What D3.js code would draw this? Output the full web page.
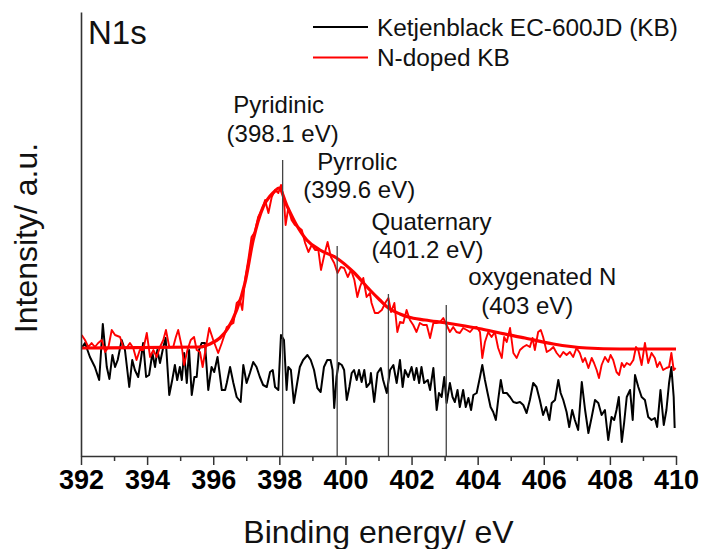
<!DOCTYPE html>
<html>
<head>
<meta charset="utf-8">
<script src="https://cdn.jsdelivr.net/npm/d3@7"></script>
<style>
  html, body { margin: 0; padding: 0; background: #fff; }
  svg { display: block; font-family: "Liberation Sans", Arial, sans-serif; }
</style>
</head>
<body>
<svg id="chart" width="702" height="549"></svg>
<script>
// ---- data (binding energy in eV, intensity in arbitrary units) ----
const kbEnergy = [
  392.02,392.12,392.27,392.42,392.55,392.66,392.78,392.86,392.95,393.03,
  393.11,393.23,393.33,393.46,393.55,393.63,393.73,393.81,393.88,393.97,
  394.06,394.16,394.24,394.31,394.39,394.49,394.56,394.67,394.76,394.84,
  394.91,394.99,395.05,395.12,395.20,395.27,395.35,395.43,395.50,395.57,
  395.65,395.75,395.85,395.95,396.03,396.13,396.26,396.36,
  396.41,396.51,396.61,396.71,396.83,396.91,397.01,397.11,397.21,397.31,
  397.41,397.51,397.62,397.72,397.80,397.87,397.97,398.05,398.14,398.22,
  398.27,398.35,398.44,398.52,398.62,398.72,398.85,398.95,399.05,399.15,
  399.25,399.35,399.45,399.55,399.61,399.66,399.73,399.80,399.89,399.96,
  400.04,400.12,400.19,400.26,400.34,400.41,400.49,400.57,400.64,400.74,
  400.77,400.87,400.97,401.07,401.14,401.25,401.35,401.45,401.55,401.65,
  401.73,401.80,401.90,402.00,402.08,402.15,402.23,402.30,402.38,402.49,
  402.56,402.66,402.76,402.83,402.91,402.99,403.06,403.16,403.24,403.31,
  403.39,403.46,403.56,403.64,403.72,403.80,403.87,403.97,404.07,404.14,
  404.22,404.30,404.39,404.47,404.55,404.62,404.70,404.77,404.88,404.98,
  405.08,405.18,405.28,405.38,
  405.48,405.58,405.68,405.78,405.88,405.98,406.07,406.17,406.24,406.34,
  406.44,406.51,406.59,406.69,406.77,406.86,406.94,407.04,407.15,407.25,
  407.35,407.45,407.55,407.65,407.75,407.85,407.95,408.05,408.13,408.20,
  408.27,408.36,408.43,408.51,408.61,408.69,408.76,408.86,408.96,409.06,
  409.16,409.26,409.36,409.43,409.53,409.63,409.71,409.79,409.86,409.93,
  409.96
];
const kbIntensity = [
  108,113,99,89,76,132,89,77,101,89,
  96,116,106,69,96,86,79,96,113,79,
  81,103,89,106,93,109,118,61,76,91,
  76,89,76,103,73,106,61,79,79,106,
  113,113,66,89,84,99,66,66,
  73,89,73,59,54,91,73,83,94,89,
  79,71,69,84,86,69,66,121,116,66,
  89,86,53,69,89,96,101,96,86,68,
  64,89,96,96,86,48,79,93,91,86,
  56,69,83,86,76,86,74,86,69,73,
  83,54,83,88,76,63,86,91,73,96,
  69,86,79,89,76,88,73,89,73,76,
  66,88,46,63,59,79,53,73,59,54,
  66,49,66,49,58,46,61,63,79,91,
  76,63,49,44,36,56,76,63,63,59,
  54,53,54,51,
  43,56,73,69,56,41,49,36,53,56,
  76,63,56,44,29,46,36,26,74,46,
  23,39,56,53,41,46,16,39,36,46,
  59,14,33,59,66,36,81,69,59,56,
  39,36,38,29,66,31,46,73,89,59,
  28
];
const ndEnergy = [
  392.02,392.12,392.22,392.32,392.42,392.52,392.63,392.73,392.83,392.93,
  393.03,393.18,393.28,393.38,393.48,393.58,393.68,393.78,393.88,393.99,
  394.09,394.19,394.29,394.39,394.49,394.57,394.67,394.79,394.87,394.94,
  395.05,395.12,395.22,395.32,395.42,395.50,395.60,395.68,395.78,395.88,
  396.00,396.15,396.26,396.36,
  396.41,396.51,396.61,396.71,396.81,396.88,396.96,397.06,397.16,397.26,
  397.36,397.47,397.57,397.67,397.77,397.87,397.97,398.05,398.14,398.19,
  398.27,398.37,398.47,398.57,398.68,398.78,398.88,398.98,399.08,399.18,
  399.26,399.36,399.46,399.56,399.66,399.76,399.86,399.96,400.07,400.17,
  400.27,400.36,400.44,400.54,400.64,400.74,
  400.79,400.89,400.99,401.10,401.22,401.30,401.38,401.48,401.57,401.65,
  401.75,401.85,401.95,402.05,402.15,402.25,402.35,402.46,402.56,402.66,
  402.76,402.86,402.96,403.06,403.16,403.26,403.36,403.46,403.56,403.67,
  403.77,403.87,403.97,404.07,404.14,404.22,404.32,404.42,404.52,404.62,
  404.73,404.80,404.88,404.98,405.08,405.18,405.28,405.38,
  405.48,405.58,405.66,405.73,405.83,405.91,405.98,406.09,406.19,406.29,
  406.39,406.49,406.59,406.69,406.79,406.89,406.99,407.09,407.18,407.25,
  407.35,407.45,407.52,407.60,407.67,407.75,407.85,407.95,408.02,408.10,
  408.20,408.28,408.36,408.43,408.51,408.61,408.71,408.79,408.86,408.96,
  409.06,409.16,409.26,409.36,409.43,409.51,409.61,409.71,409.79,409.86,
  409.93,409.99
];
const ndIntensity = [
  121,116,109,113,109,113,116,104,109,126,
  121,119,109,108,113,108,96,106,106,123,
  99,106,99,109,116,126,109,109,119,126,
  109,91,106,116,119,106,104,89,109,128,
  116,103,113,123,
  129,131,133,153,156,146,176,196,219,224,
  239,246,256,243,259,266,263,271,256,231,
  248,236,231,229,226,213,204,211,206,206,
  186,201,214,199,193,183,189,188,179,186,
  176,159,169,178,159,163,
  153,143,143,146,154,158,144,153,124,134,
  133,146,136,131,124,133,131,131,118,133,
  133,134,138,131,124,129,124,123,128,126,
  124,128,129,124,98,114,124,119,124,108,
  98,119,114,128,103,98,106,109,
  111,109,118,106,124,126,119,104,106,109,
  103,99,104,101,104,99,108,103,94,98,
  88,98,93,86,78,91,99,94,101,96,
  84,81,93,89,93,91,96,109,106,91,
  113,93,103,98,89,94,86,88,89,103,
  86,88
];
const fitEnergy = [392.0,395.6,395.9,396.2,396.45,396.71,396.96,397.21,397.51,397.72,
  397.87,397.99,398.22,398.52,398.83,399.23,399.73,400.24,400.74,401.04,401.3,401.65,
  401.9,402.41,403.06,403.62,404.12,404.67,405.43,406.29,407.3,408.3,410.0];
const fitIntensity = [108,109,112,118,128,146,173,216,249,260,
  265,268,251,231,216,206,198,184,166,156,148,142,
  139,136,133,130,127,123,118,112,108,107,107];

const seriesNames = ["Ketjenblack EC-600JD (KB)", "N-doped KB"];
const peakNames = ["Pyridinic", "Pyrrolic", "Quaternary", "oxygenated N"];
const peakLabels = ["(398.1 eV)", "(399.6 eV)", "(401.2 eV)", "(403 eV)"];
const peakEnergy = [398.1, 399.75, 401.3, 403.05];
const peakLineTop = [296, 210, 162, 151];
const xTickValues = [392, 394, 396, 398, 400, 402, 404, 406, 408, 410];
const xMinorValues = [393, 395, 397, 399, 401, 403, 405, 407, 409];

// ---- layout ----
const svg = d3.select("#chart");
svg.append("rect").attr("width", 702).attr("height", 549).attr("fill", "#fff");
const x = d3.scaleLinear().domain([392, 410]).range([81, 676]);
const y = d3.scaleLinear().domain([0, 444]).range([456, 12]);
const axisColor = "#333";

// label offsets (pixels): [nameDx, nameBaseline, valueDx, valueBaseline]
const labelLayout = [
  [-4, 113, 0, 142],
  [20, 170, 22, 198],
  [43, 230, 39, 258],
  [96, 285, 81, 314]
];

const line = d3.line().x(d => x(d[0])).y(d => y(d[1]));

const kbData = kbEnergy.map((e, i) => [e, kbIntensity[i]]);
const ndData = ndEnergy.map((e, i) => [e, ndIntensity[i]]);
const fitData = fitEnergy.map((e, i) => [e, fitIntensity[i]]);

svg.append("path").datum(kbData).attr("d", line)
  .attr("fill", "none").attr("stroke", "#000").attr("stroke-width", 2)
  .attr("stroke-linejoin", "round");
svg.append("path").datum(ndData).attr("d", line)
  .attr("fill", "none").attr("stroke", "#ff0000").attr("stroke-width", 1.9)
  .attr("stroke-linejoin", "round");
svg.append("path").datum(fitData).attr("d", line.curve(d3.curveMonotoneX))
  .attr("fill", "none").attr("stroke", "#ff0000").attr("stroke-width", 3.2);

// peak marker lines
svg.selectAll(".peakline").data(peakEnergy).enter().append("line")
  .attr("x1", d => x(d)).attr("x2", d => x(d))
  .attr("y1", (d, i) => y(peakLineTop[i])).attr("y2", y(0))
  .attr("stroke", "#444").attr("stroke-width", 1.3);

// peak labels
peakNames.forEach((n, i) => {
  const L = labelLayout[i];
  svg.append("text").attr("x", x(peakEnergy[i]) + L[0]).attr("y", L[1])
    .attr("text-anchor", "middle").attr("font-size", 24).attr("fill", "#111").text(n);
  svg.append("text").attr("x", x(peakEnergy[i]) + L[2]).attr("y", L[3])
    .attr("text-anchor", "middle").attr("font-size", 24).attr("fill", "#111").text(peakLabels[i]);
});

// axes
const gx = svg.append("g").attr("transform", `translate(0,${y(0)})`)
  .call(d3.axisBottom(x).tickValues(xTickValues).tickSize(9).tickSizeOuter(0).tickPadding(5).tickFormat(d3.format("d")));
gx.selectAll("text").attr("font-size", 27).attr("font-weight", "bold")
  .attr("fill", "#000").attr("font-family", "'Liberation Sans', Arial, sans-serif");
const gm = svg.append("g").attr("transform", `translate(0,${y(0)})`)
  .call(d3.axisBottom(x).tickValues(xMinorValues).tickSize(5).tickSizeOuter(0).tickFormat(""));
gm.select(".domain").remove();
svg.selectAll(".tick line").attr("stroke", axisColor).attr("stroke-width", 1.5);
gx.select(".domain").attr("stroke", axisColor).attr("stroke-width", 1.6);

const gy = svg.append("g").attr("transform", `translate(${x(392)},0)`)
  .call(d3.axisLeft(y).tickValues([]).tickSizeOuter(0));
gy.select(".domain").attr("stroke", axisColor).attr("stroke-width", 1.6);

// axis titles
svg.append("text").attr("x", x(401)).attr("y", 543).attr("text-anchor", "middle")
  .attr("font-size", 32).attr("fill", "#111").text("Binding energy/ eV");
svg.append("text").attr("transform", `translate(37,${238}) rotate(-90)`)
  .attr("text-anchor", "middle").attr("font-size", 32).attr("fill", "#111").text("Intensity/ a.u.");

// panel label
svg.append("text").attr("x", 88).attr("y", 44).attr("font-size", 33).attr("fill", "#111").text("N1s");

// legend
const legendColors = ["#000", "#ff0000"];
seriesNames.forEach((s, i) => {
  const ly = 27 + i * 30.5;
  svg.append("line").attr("x1", 313).attr("x2", 368).attr("y1", ly).attr("y2", ly)
    .attr("stroke", legendColors[i]).attr("stroke-width", 1.8);
  svg.append("text").attr("x", 377).attr("y", ly + 8.5).attr("font-size", 24.4)
    .attr("fill", "#111").text(s);
});
</script>
</body>
</html>
